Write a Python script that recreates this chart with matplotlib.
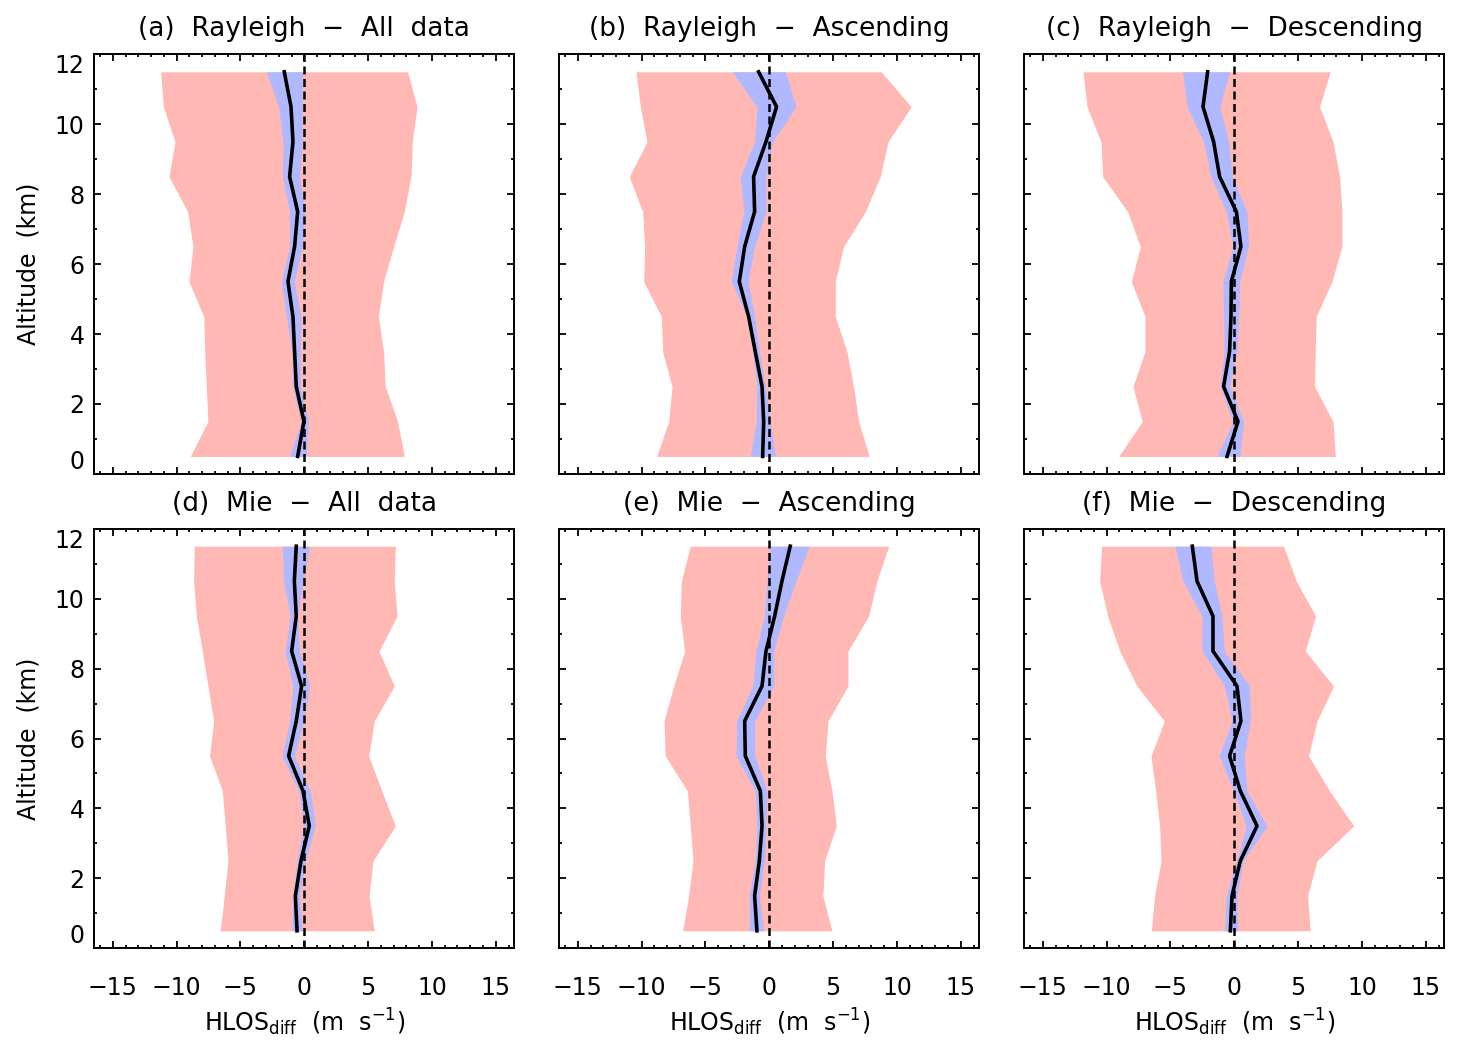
import numpy as np
import matplotlib.pyplot as plt

# altitude levels (km)
alt = [0.5, 1.5, 2.5, 3.5, 4.5, 5.5, 6.5, 7.5, 8.5, 9.5, 10.5, 11.5]

titles = ['(a)  Rayleigh  \u2212  All  data', '(b)  Rayleigh  \u2212  Ascending', '(c)  Rayleigh  \u2212  Descending',
          '(d)  Mie  \u2212  All  data', '(e)  Mie  \u2212  Ascending', '(f)  Mie  \u2212  Descending']

# (a) Rayleigh all
ra_mean = [-0.52, -0.03, -0.63, -0.76, -0.89, -1.28, -0.76, -0.52, -1.15, -0.89, -1.04, -1.57]
ra_ci_lo = [-1.17, -0.23, -0.91, -0.97, -1.40, -1.80, -1.15, -1.17, -1.70, -1.67, -2.00, -2.98]
ra_ci_hi = [0.16, 0.31, -0.31, -0.31, -0.26, -0.78, -0.16, 0.05, -0.37, -0.16, -0.16, -0.16]
ra_sd_lo = [-8.93, -7.55, -7.68, -7.80, -7.88, -9.03, -8.72, -9.14, -10.60, -10.13, -11.04, -11.25]
ra_sd_hi = [7.83, 7.31, 6.34, 6.21, 5.80, 6.21, 7.00, 7.83, 8.36, 8.46, 8.83, 8.09]

# (b) Rayleigh ascending
rasc_mean = [-0.52, -0.44, -0.57, -1.10, -1.62, -2.35, -1.93, -1.15, -1.23, -0.26, 0.57, -0.84]
rasc_ci_lo = [-1.49, -1.02, -0.97, -1.31, -1.75, -2.98, -2.53, -2.00, -2.27, -1.15, -0.97, -2.92]
rasc_ci_hi = [0.47, 0.08, -0.31, -0.78, -1.15, -1.67, -1.15, -0.26, -0.26, 0.26, 2.09, 1.25]
rasc_sd_lo = [-8.83, -7.88, -7.62, -8.36, -8.46, -9.84, -9.77, -9.92, -10.97, -9.58, -10.10, -10.44]
rasc_sd_hi = [7.83, 7.00, 6.60, 6.08, 5.17, 5.17, 5.82, 7.52, 8.69, 9.30, 11.12, 8.77]

# (c) Rayleigh descending
rdes_mean = [-0.57, 0.29, -0.84, -0.37, -0.26, -0.23, 0.52, 0.16, -1.15, -1.62, -2.45, -2.09]
rdes_ci_lo = [-1.36, -0.10, -1.10, -0.78, -0.84, -0.89, -0.10, -0.63, -1.83, -2.40, -3.71, -4.05]
rdes_ci_hi = [0.42, 0.73, -0.37, 0.21, 0.34, 0.42, 1.12, 0.99, -0.18, -0.44, -1.15, -0.37]
rdes_sd_lo = [-9.06, -7.21, -7.94, -7.00, -7.00, -8.07, -7.36, -8.36, -10.31, -10.44, -11.54, -11.85]
rdes_sd_hi = [7.91, 7.73, 6.29, 6.34, 6.42, 7.65, 8.43, 8.43, 8.25, 7.73, 6.68, 7.52]

# (d) Mie all
ma_mean = [-0.57, -0.70, -0.26, 0.39, -0.10, -1.23, -0.63, -0.21, -0.99, -0.63, -0.78, -0.63]
ma_ci_lo = [-0.97, -0.89, -0.57, -0.05, -0.42, -1.75, -1.15, -0.89, -1.51, -1.10, -1.62, -1.72]
ma_ci_hi = [-0.16, -0.37, 0.08, 0.86, 0.47, -0.78, -0.05, 0.42, -0.37, -0.52, -0.10, 0.42]
ma_sd_lo = [-6.58, -6.27, -5.98, -6.19, -6.42, -7.42, -7.10, -7.55, -7.99, -8.46, -8.67, -8.62]
ma_sd_hi = [5.48, 5.07, 5.38, 7.13, 6.08, 5.04, 5.48, 7.05, 5.85, 7.26, 7.05, 7.13]

# (e) Mie ascending
masc_mean = [-0.97, -1.15, -0.78, -0.57, -0.70, -1.88, -1.93, -0.57, -0.26, 0.42, 0.99, 1.64]
masc_ci_lo = [-1.57, -1.57, -1.10, -0.97, -1.10, -2.61, -2.56, -1.31, -1.04, -0.39, -0.18, 0.08]
masc_ci_hi = [-0.44, -0.78, -0.37, -0.26, -0.18, -1.15, -1.15, 0.34, 0.34, 1.12, 2.09, 3.13]
masc_sd_lo = [-6.79, -6.32, -5.98, -6.19, -6.42, -8.15, -8.25, -7.49, -6.63, -6.97, -6.89, -6.19]
masc_sd_hi = [4.91, 4.20, 4.33, 5.25, 4.91, 4.39, 4.60, 6.16, 6.16, 7.78, 8.43, 9.35]

# (f) Mie descending
mdes_mean = [-0.31, -0.18, 0.47, 1.78, 0.47, -0.37, 0.52, 0.21, -1.67, -1.67, -2.92, -3.29]
mdes_ci_lo = [-0.78, -0.63, 0.16, 0.94, -0.05, -1.20, -0.16, -0.78, -2.53, -2.53, -4.02, -4.65]
mdes_ci_hi = [0.26, 0.21, 0.68, 2.56, 0.99, 0.78, 1.25, 1.20, -0.78, -0.97, -1.57, -1.83]
mdes_sd_lo = [-6.50, -6.24, -5.74, -5.85, -6.16, -6.53, -5.48, -7.62, -8.98, -9.92, -10.55, -10.39]
mdes_sd_hi = [5.95, 5.74, 6.48, 9.35, 7.47, 5.82, 6.48, 7.78, 5.56, 6.37, 4.86, 3.86]

panels = [
    (ra_mean, ra_ci_lo, ra_ci_hi, ra_sd_lo, ra_sd_hi),
    (rasc_mean, rasc_ci_lo, rasc_ci_hi, rasc_sd_lo, rasc_sd_hi),
    (rdes_mean, rdes_ci_lo, rdes_ci_hi, rdes_sd_lo, rdes_sd_hi),
    (ma_mean, ma_ci_lo, ma_ci_hi, ma_sd_lo, ma_sd_hi),
    (masc_mean, masc_ci_lo, masc_ci_hi, masc_sd_lo, masc_sd_hi),
    (mdes_mean, mdes_ci_lo, mdes_ci_hi, mdes_sd_lo, mdes_sd_hi),
]

plt.rcParams['font.family'] = ['DejaVu Sans']
plt.rcParams['mathtext.default'] = 'regular'

pink = '#ffb8b3'
blue = '#b0b8ff'

fig = plt.figure(figsize=(14.58, 10.51), dpi=100)
W, H = 1458.0, 1051.0
lefts = [94.3, 559.3, 1024.3]
tops = [54.3, 528.7]
aw, ah = 420.0, 419.6

for i, (mean, ci_lo, ci_hi, sd_lo, sd_hi) in enumerate(panels):
    row, col = divmod(i, 3)
    ax = fig.add_axes([lefts[col] / W, 1 - (tops[row] + ah) / H, aw / W, ah / H])
    ax.fill_betweenx(alt, sd_lo, sd_hi, color=pink, lw=0)
    ax.fill_betweenx(alt, ci_lo, ci_hi, color=blue, lw=0)
    ax.axvline(0, color='black', lw=1.8, dashes=(3.2, 1.8))
    ax.plot(mean, alt, color='black', lw=2.6)

    ax.set_xlim(-16.45, 16.45)
    ax.set_ylim(0, 12)
    ax.set_xticks([-15, -10, -5, 0, 5, 10, 15])
    ax.set_xticks(np.arange(-16, 17, 1), minor=True)
    ax.set_yticks([0, 2, 4, 6, 8, 10, 12])
    ax.set_yticks(np.arange(0, 13, 1), minor=True)
    ax.tick_params(which='both', direction='in', top=True, right=True, width=1.3)
    ax.tick_params(which='major', length=5, labelsize=17)
    ax.tick_params(which='minor', length=2.5)
    ax.tick_params(axis='x', pad=20)
    ax.tick_params(axis='y', pad=7)
    for sp in ax.spines.values():
        sp.set_linewidth(1.4)

    if row == 0:
        ax.set_xticklabels([])
    else:
        ax.set_xlabel('HLOS$_{diff}$  (m  s$^{-1}$)', fontsize=17, labelpad=5)
    if col == 0:
        ax.set_ylabel('Altitude  (km)', fontsize=17, labelpad=10)
        ylabs = ax.get_yticklabels()
        ylabs[0].set_va('bottom')
        ylabs[-1].set_va('top')
    else:
        ax.set_yticklabels([])
    ax.set_title(titles[i], fontsize=19, pad=13)

fig.savefig('out.png', dpi=100)
